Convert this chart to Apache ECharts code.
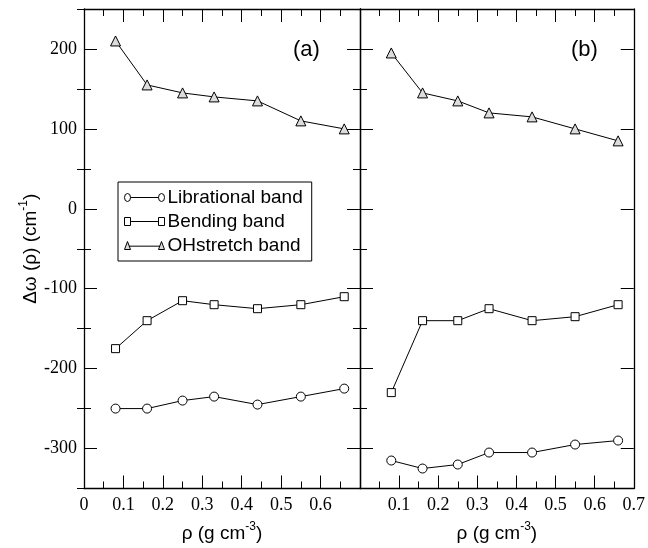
<!DOCTYPE html>
<html><head><meta charset="utf-8">
<script src="https://cdn.jsdelivr.net/npm/echarts@6/dist/echarts.min.js"></script>
<style>html,body{margin:0;padding:0;background:#fff}#c{width:648px;height:548px}</style>
</head><body><div id="c"></div>
<script>
var densities = [0.08, 0.16, 0.25, 0.33, 0.44, 0.55, 0.66];
var seriesNames = ['Librational band', 'Bending band', 'OHstretch band'];
var libA = [-250, -250, -240, -235, -245, -235, -225];
var bendA = [-175, -140, -115, -120, -125, -120, -110];
var ohA = [210, 155, 145, 140, 135, 110, 100];
var libB = [-315, -325, -320, -305, -305, -295, -290];
var bendB = [-230, -140, -140, -125, -140, -135, -120];
var ohB = [195, 145, 135, 120, 115, 100, 85];
var yMajorTicks = [-300, -200, -100, 0, 100, 200];
var yMinorTicks = [-350, -250, -150, -50, 50, 150, 250];
var panelLabels = ['(a)', '(b)'];

function pairs(ys) { return densities.map(function (x, i) { return [x, ys[i]]; }); }

var serif = 'Liberation Serif';
var sans = 'Liberation Sans';
var axisLine = { show: true, onZero: false, lineStyle: { color: '#000', width: 1.3 } };
var tick = { show: true, inside: true, length: 13, lineStyle: { color: '#000', width: 1 } };
var minor = { show: true, splitNumber: 2, length: 7, lineStyle: { color: '#000', width: 1 } };

var nameStyle = {
  rich: {
    n: { fontFamily: sans, fontSize: 19, color: '#000', lineHeight: 26 },
    s: { fontFamily: sans, fontSize: 12, color: '#000', lineHeight: 14, verticalAlign: 'top' }
  }
};

function xAxes(gi, showMin, showMax) {
  return [
    { gridIndex: gi, type: 'value', position: 'bottom', min: 0, max: 0.7, interval: 0.1,
      axisLine: axisLine, axisTick: tick, minorTick: minor, splitLine: { show: false },
      axisLabel: { show: true, showMinLabel: showMin, showMaxLabel: showMax, fontFamily: serif, fontSize: 18, color: '#000', margin: 8,
        formatter: function (v) { return (Math.round(v * 10) / 10).toString(); } },
      name: '{n|ρ (g cm}{s|-3}{n|)}', nameLocation: 'middle', nameGap: 32, nameTextStyle: nameStyle },
    { gridIndex: gi, type: 'value', position: 'top', min: 0, max: 0.7, interval: 0.1,
      axisLine: axisLine, axisTick: tick, minorTick: minor, splitLine: { show: false },
      axisLabel: { show: false } }
  ];
}
function yAxis(gi, pos, ticks, len, labels, line) {
  return { gridIndex: gi, type: 'value', position: pos, min: -350, max: 250, interval: 50,
    axisLine: line ? axisLine : { show: false },
    axisTick: { show: true, inside: true, length: len, customValues: ticks, lineStyle: { color: '#000', width: 1 } },
    splitLine: { show: false },
    axisLabel: labels ? { show: true, customValues: ticks, fontFamily: serif, fontSize: 18, color: '#000', margin: 7 } : { show: false } };
}
function yAxes(gi, showLabels) {
  var main = yAxis(gi, 'left', yMajorTicks, 13, showLabels, true);
  if (showLabels) {
    main.name = '{n|Δω (ρ) (cm}{s|-1}{n|)}';
    main.nameLocation = 'middle';
    main.nameGap = 36;
    main.nameRotate = 90;
    main.nameTextStyle = nameStyle;
  }
  return [
    main,
    yAxis(gi, 'right', yMajorTicks, 13, false, true),
    yAxis(gi, 'left', yMinorTicks, 7, false, false),
    yAxis(gi, 'right', yMinorTicks, 7, false, false)
  ];
}

var markerDefs = [
  { symbol: 'circle', size: 9, fill: '#fff' },
  { symbol: 'rect', size: 8, fill: '#fff' },
  { symbol: 'triangle', size: 10, fill: '#dcdcdc' }
];
var dataA = [libA, bendA, ohA];
var dataB = [libB, bendB, ohB];

var series = [];
[dataA, dataB].forEach(function (set, p) {
  set.forEach(function (ys, k) {
    series.push({
      name: seriesNames[k], type: 'line', xAxisIndex: p * 2, yAxisIndex: p * 4,
      data: pairs(ys), symbol: markerDefs[k].symbol, symbolSize: markerDefs[k].size,
      showAllSymbol: true, animation: false,
      lineStyle: { color: '#000', width: 1 },
      itemStyle: { color: markerDefs[k].fill, borderColor: '#000', borderWidth: 1 }
    });
  });
});

var icons = [
  'path://M0,5A3,3 0 1 1 6,5A3,3 0 1 1 0,5ZM6,5L34,5M34,5A3,3 0 1 1 40,5A3,3 0 1 1 34,5Z',
  'path://M0,2L6,2L6,8L0,8ZM6,5L34,5M34,2L40,2L40,8L34,8Z',
  'path://M3,1.5L6,7.5L0,7.5ZM4.5,5L35.5,5M37,1.5L40,7.5L34,7.5Z'
];
var legendFill = ['#fff', '#fff', '#dcdcdc'];

var option = {
  backgroundColor: '#fff',
  animation: false,
  grid: [
    { left: 84, width: 276, top: 9, bottom: 56 },
    { left: 360, right: 12, top: 9, bottom: 56 }
  ],
  xAxis: xAxes(0, true, false).concat(xAxes(1, false, true)),
  yAxis: yAxes(0, true).concat(yAxes(1, false)),
  title: [
    { text: panelLabels[0], left: 288, top: 34, textStyle: { fontFamily: sans, fontSize: 22, fontWeight: 'normal', color: '#000' } },
    { text: panelLabels[1], left: 566, top: 34, textStyle: { fontFamily: sans, fontSize: 22, fontWeight: 'normal', color: '#000' } }
  ],
  legend: {
    orient: 'vertical', left: 118, top: 182, padding: [6, 9, 6, 6], itemGap: 5,
    borderColor: '#000', borderWidth: 1, backgroundColor: '#fff',
    itemWidth: 40, itemHeight: 8, symbolKeepAspect: false,
    textStyle: { fontFamily: sans, fontSize: 19, color: '#000', padding: [0, 0, 0, -2] },
    data: seriesNames.map(function (n, i) {
      return { name: n, icon: icons[i], itemStyle: { color: legendFill[i], borderColor: '#000', borderWidth: 1 } };
    })
  },
  series: series
};

var chart = echarts.init(document.getElementById('c'), null, { renderer: 'canvas' });
chart.setOption(option);
</script>
</body></html>
